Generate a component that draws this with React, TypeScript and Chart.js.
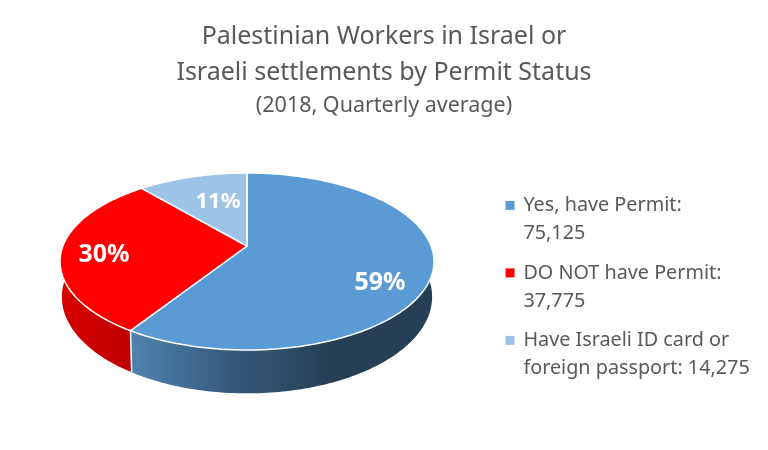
import { useEffect, useRef } from "react";
import { Chart, registerables } from "chart.js";

Chart.register(...registerables);

const categories = [
  ["Yes, have Permit:", "75,125"],
  ["DO NOT have Permit:", "37,775"],
  ["Have Israeli ID card or", "foreign passport: 14,275"],
];
const workers = [75125, 37775, 14275];
const sliceColors = ["#5b9bd5", "#ff0000", "#9dc3e6"];
const titleLines = ["Palestinian Workers in Israel or", "Israeli settlements by Permit Status"];
const subtitleLine = "(2018, Quarterly average)";

const FONT = "'Noto Sans', 'Open Sans', sans-serif";
const GREY = "#595959";

// perspective view of the pie: apex of the slices and tilt
const APEX_X = 247;
const APEX_Y = 246;
const A = 184.1;
const B = 85.8;
const K = 0.175;
const DEPTH = 34;

const project = (angle: number, lower = false) => {
  const u = Math.cos(angle);
  const v = Math.sin(angle);
  const w = 1 - K * v;
  const x = (A * u) / w;
  const y = (B * v) / w;
  if (lower) return { x: APEX_X + x * 0.99, y: APEX_Y + DEPTH + y * 1.09 };
  return { x: APEX_X + x, y: APEX_Y + y };
};

const rimPoints = (start: number, end: number, lower = false) => {
  const steps = Math.max(2, Math.ceil(((end - start) * 180) / Math.PI));
  const pts = [];
  for (let i = 0; i <= steps; i++) pts.push(project(start + ((end - start) * i) / steps, lower));
  return pts;
};

const sideFill = (ctx: CanvasRenderingContext2D, index: number) => {
  if (index === 0) {
    const g = ctx.createLinearGradient(131, 0, 335, 0);
    g.addColorStop(0, "#4f82ae");
    g.addColorStop(0.5, "#36597b");
    g.addColorStop(1, "#243f56");
    return g;
  }
  if (index === 1) {
    const g = ctx.createLinearGradient(60, 0, 131, 0);
    g.addColorStop(0, "#d80000");
    g.addColorStop(1, "#bd0000");
    return g;
  }
  return "#7f9fbf";
};

const labelAnchors = [
  { x: 380, y: 283, size: 25 },
  { x: 104, y: 255, size: 25 },
  { x: 218, y: 202, size: 22 },
];

const pie3d = {
  id: "pie3d",
  afterLayout(chart: any) {
    const legend = chart.legend;
    legend.left = 495;
    legend.right = 768;
    legend.top = 184;
    legend.bottom = 404;
  },
  beforeDatasetsDraw(chart: any) {
    const ctx: CanvasRenderingContext2D = chart.ctx;
    const arcs = chart.getDatasetMeta(0).data;
    const total = workers.reduce((a, b) => a + b, 0);

    ctx.save();
    // side walls, back to front
    for (let i = arcs.length - 1; i >= 0; i--) {
      const { startAngle, endAngle } = arcs[i];
      const top = rimPoints(startAngle, endAngle);
      const low = rimPoints(startAngle, endAngle, true).reverse();
      ctx.beginPath();
      [...top, ...low].forEach((p, n) => (n ? ctx.lineTo(p.x, p.y) : ctx.moveTo(p.x, p.y)));
      ctx.closePath();
      ctx.fillStyle = sideFill(ctx, i);
      ctx.fill();
    }

    // seam between the two front walls
    const seamTop = project(arcs[0].endAngle);
    const seamLow = project(arcs[0].endAngle, true);
    ctx.beginPath();
    ctx.moveTo(seamTop.x, seamTop.y);
    ctx.lineTo(seamLow.x, seamLow.y);
    ctx.strokeStyle = "#ffffff";
    ctx.lineWidth = 1.5;
    ctx.stroke();

    // top faces
    arcs.forEach((arc: any, i: number) => {
      ctx.beginPath();
      ctx.moveTo(APEX_X, APEX_Y);
      rimPoints(arc.startAngle, arc.endAngle).forEach((p) => ctx.lineTo(p.x, p.y));
      ctx.closePath();
      ctx.fillStyle = sliceColors[i];
      ctx.fill();
      ctx.strokeStyle = "#ffffff";
      ctx.lineWidth = 1.5;
      ctx.lineJoin = "round";
      ctx.stroke();
    });

    // percentage labels
    ctx.fillStyle = "#ffffff";
    ctx.textAlign = "center";
    ctx.textBaseline = "middle";
    workers.forEach((value, i) => {
      const a = labelAnchors[i];
      ctx.font = `bold ${a.size}px ${FONT}`;
      ctx.fillText(`${Math.round((value / total) * 100)}%`, a.x, a.y);
    });
    ctx.restore();
    return false;
  },
};

export default function App() {
  const canvasRef = useRef<HTMLCanvasElement>(null);

  useEffect(() => {
    document.body.style.margin = "0";
    if (!canvasRef.current) return;
    const chart = new Chart(canvasRef.current, {
      type: "pie",
      data: {
        labels: categories as any,
        datasets: [{ data: workers, backgroundColor: sliceColors, borderWidth: 0 }],
      },
      options: {
        responsive: false,
        animation: false,
        devicePixelRatio: 1,
        plugins: {
          title: {
            display: true,
            text: titleLines,
            color: GREY,
            font: { family: FONT, size: 25, weight: "normal", lineHeight: 36 / 25 },
            padding: { top: 19, bottom: 0 },
          },
          subtitle: {
            display: true,
            text: subtitleLine,
            color: GREY,
            font: { family: FONT, size: 21.5, weight: "normal", lineHeight: 1.4 },
            padding: { top: 0, bottom: 0 },
          },
          legend: {
            position: "right",
            align: "start",
            labels: {
              color: GREY,
              font: { family: FONT, size: 19.8, lineHeight: 28 / 19.8 },
              usePointStyle: true,
              pointStyle: "rect",
              boxWidth: 7,
              boxHeight: 9,
              padding: 11.5,
            },
          },
          tooltip: { enabled: false },
        },
      } as any,
      plugins: [pie3d],
    });
    return () => chart.destroy();
  }, []);

  return (
    <div style={{ position: "absolute", left: 0, top: 0, width: 768, height: 450 }}>
      <canvas ref={canvasRef} width={768} height={450} style={{ display: "block" }} />
    </div>
  );
}
